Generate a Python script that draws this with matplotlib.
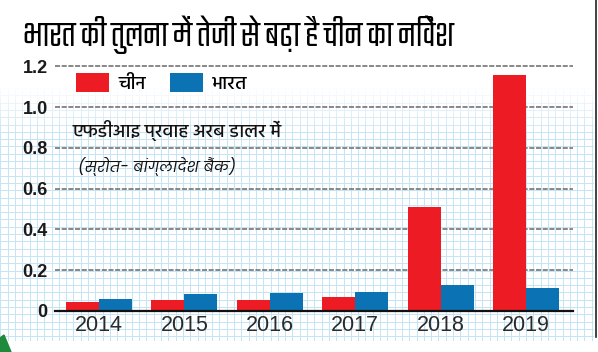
import numpy as np
import matplotlib
matplotlib.use("Agg")
import matplotlib.pyplot as plt
from matplotlib import font_manager
from matplotlib.ft2font import FT2Font
from matplotlib.patches import Polygon

# FDI flow, billion dollars
years = ['2014', '2015', '2016', '2017', '2018', '2019']
china = [0.043, 0.051, 0.051, 0.069, 0.508, 1.16]
india = [0.057, 0.082, 0.087, 0.093, 0.125, 0.113]
yticks = [0, 0.2, 0.4, 0.6, 0.8, 1.0, 1.2]
ytick_labels = ['0', '0.2', '0.4', '0.6', '0.8', '1.0', '1.2']

title = 'भारत की तुलना में तेजी से बढ़ा है चीन का निवेश'
legend_labels = ['चीन', 'भारत']
note = 'एफडीआइ प्रवाह अरब डालर में'
source = '(स्रोत- बांग्लादेश बैंक)'

RED = '#ed1c24'
BLUE = '#0b73b3'

# fonts with devanagari glyphs
deva_names = set()
for f in font_manager.fontManager.ttflist:
    try:
        if 0x0915 in FT2Font(f.fname).get_charmap():
            deva_names.add(f.name)
    except Exception:
        pass


def pick(prefs):
    for p in prefs:
        if p in deva_names:
            return [p, 'DejaVu Sans']
    if deva_names:
        return [sorted(deva_names)[0], 'DejaVu Sans']
    return ['DejaVu Sans']


title_font = pick(['Teko', 'Khand', 'Hind', 'Noto Sans Devanagari'])
body_font = pick(['Hind', 'Mukta', 'Noto Sans Devanagari', 'Poppins'])
italic_font = pick(['Poppins', 'Hind', 'Mukta'])

fig = plt.figure(figsize=(5.98, 3.52), dpi=100)
fig.patch.set_facecolor('white')

# graph paper background, fading in from the top
H, W = 352, 598
yy, xx = np.mgrid[0:H, 0:W]
cell = 7.3
grid = ((xx % cell) < 1.0) | ((yy % cell) < 1.0)
alpha = np.clip((yy - 85) / 50.0, 0, 1) * (yy < 341) * (xx < 594)
bg = np.ones((H, W, 4))
bg[..., 0] = np.where(grid, 197 / 255, 1)
bg[..., 1] = np.where(grid, 228 / 255, 1)
bg[..., 2] = np.where(grid, 244 / 255, 1)
bg[..., 3] = np.where(grid, alpha, 0)
fig.figimage(bg, 0, 0, zorder=-1, origin='upper')

ax = fig.add_axes([0.0915, 0.1173, 0.8672, 0.6938])
ax.set_facecolor('none')

x = np.arange(len(years))
w = 0.386
ax.bar(x - w / 2, china, w, color=RED, label=legend_labels[0], zorder=3)
ax.bar(x + w / 2, india, w, color=BLUE, label=legend_labels[1], zorder=3)

for v in yticks[1:]:
    ax.axhline(v, color='#7f7f7f', lw=1.3, dashes=(2.8, 0.9), zorder=1, clip_on=False)
ax.axhline(0, color='#111111', lw=1.6, zorder=4, clip_on=False)

ax.set_xlim(-0.519, 5.554)
ax.set_ylim(0, 1.2)
ax.set_yticks(yticks)
ax.set_yticklabels(ytick_labels, fontsize=13, family=['Liberation Sans Narrow', 'Liberation Sans'],
                   fontweight='bold', color='#1a1a1a')
ax.set_xticks(x)
ax.set_xticklabels(years, fontsize=15.5, family='Liberation Sans', color='#2a2a2a')
ax.tick_params(axis='y', length=0, pad=5)
ax.tick_params(axis='x', length=0, pad=3)
for s in ax.spines.values():
    s.set_visible(False)

ax.legend(loc='upper left', bbox_to_anchor=(76 / 598, 1 - 72.7 / 352),
          bbox_transform=fig.transFigure, ncol=2, frameon=False, borderpad=0,
          borderaxespad=0, handlelength=1.7, handleheight=1.15, handletextpad=0.5,
          columnspacing=1.2, prop={'family': body_font, 'size': 14, 'weight': 'medium'})

fig.text(23 / 598, 1 - 35 / 352, title, fontsize=26.8, fontweight='semibold',
         family=title_font, va='center', ha='left', color='black')
fig.text(72 / 598, 1 - 130 / 352, note, fontsize=13.6, family=body_font, fontweight='medium',
         va='center', ha='left', color='#111111')
fig.text(78 / 598, 1 - 166.7 / 352, source, fontsize=10.9, style='italic',
         family=italic_font, va='center', ha='left', color='#111111')

# page decoration: green corner and right border
fig.patches.append(Polygon([(0, 0), (0, 14 / 352), (4 / 598, 17 / 352), (11 / 598, 0)],
                           closed=True, transform=fig.transFigure, color='#1d8a3c'))
fig.add_artist(plt.Line2D([596 / 598, 596 / 598], [15 / 352, 1], transform=fig.transFigure,
                          color='#222222', lw=1.2))

fig.savefig('out.png', dpi=100)
